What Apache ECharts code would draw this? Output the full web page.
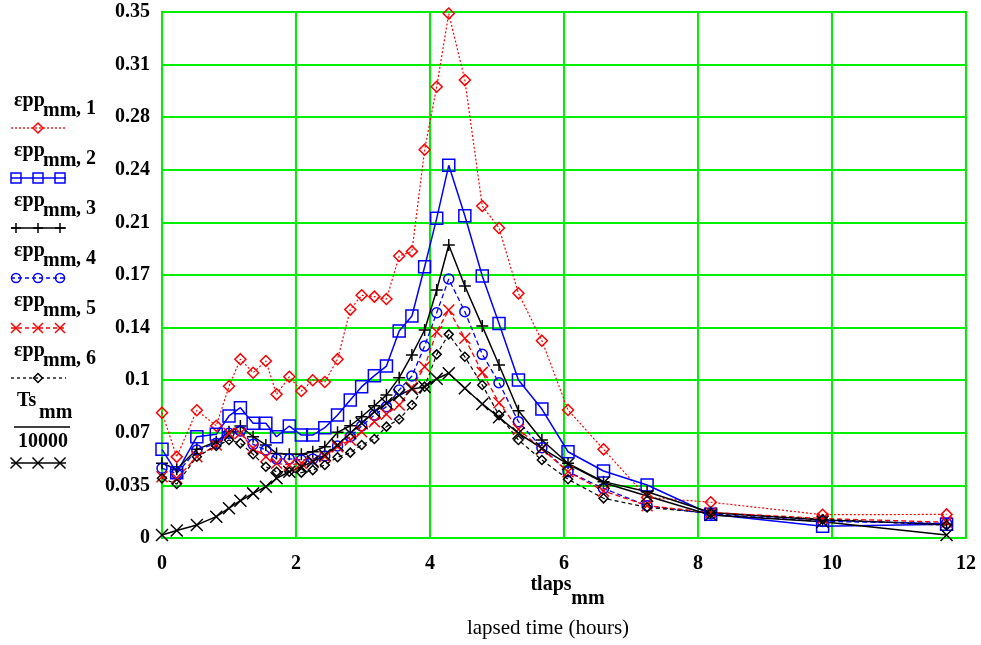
<!DOCTYPE html>
<html>
<head>
<meta charset="utf-8">
<script src="https://cdn.jsdelivr.net/npm/echarts@6/dist/echarts.min.js"></script>
<style>
html,body{margin:0;padding:0;background:#fff;}
#chart{width:981px;height:645px;}
</style>
</head>
<body>
<div id="chart"></div>
<script>
// lapsed time (hours)
var tlaps = [0, 0.22, 0.52, 0.81, 1.0, 1.17, 1.36, 1.55, 1.71, 1.90, 2.08, 2.25, 2.43, 2.62, 2.81, 2.98, 3.17, 3.35, 3.54, 3.73, 3.92, 4.10, 4.28, 4.52, 4.78, 5.03, 5.32, 5.67, 6.06, 6.59, 7.24, 8.19, 9.86, 11.71];

var epp1 = [0.0834, 0.054, 0.085, 0.0747, 0.101, 0.119, 0.110, 0.1178, 0.0956, 0.1073, 0.0978, 0.105, 0.1038, 0.119, 0.152, 0.1615, 0.1606, 0.159, 0.1876, 0.1907, 0.2584, 0.3003, 0.349, 0.3047, 0.2209, 0.2063, 0.1628, 0.1313, 0.0852, 0.059, 0.027, 0.0238, 0.0155, 0.0157];
var epp2 = [0.059, 0.0435, 0.0674, 0.069, 0.0812, 0.0867, 0.0763, 0.0763, 0.0674, 0.0745, 0.0685, 0.0685, 0.0734, 0.0818, 0.0918, 0.1007, 0.108, 0.1144, 0.1377, 0.1477, 0.1805, 0.2127, 0.248, 0.2144, 0.1743, 0.1428, 0.1051, 0.0858, 0.0574, 0.0446, 0.0353, 0.0158, 0.0078, 0.0091];
var epp3 = [0.0497, 0.0457, 0.059, 0.0641, 0.0707, 0.0745, 0.0674, 0.0619, 0.0563, 0.0557, 0.0557, 0.0574, 0.0607, 0.0703, 0.0747, 0.0807, 0.088, 0.0951, 0.1067, 0.1218, 0.1384, 0.165, 0.195, 0.1677, 0.141, 0.1151, 0.0847, 0.0652, 0.0497, 0.0375, 0.0308, 0.017, 0.012, 0.0091];
var epp4 = [0.0464, 0.043, 0.0585, 0.063, 0.0697, 0.0712, 0.0623, 0.0585, 0.0526, 0.0526, 0.0519, 0.0526, 0.0546, 0.0612, 0.0674, 0.0745, 0.0818, 0.0874, 0.0985, 0.1078, 0.1277, 0.1499, 0.1723, 0.1506, 0.1222, 0.1033, 0.0774, 0.0601, 0.0441, 0.033, 0.0215, 0.016, 0.011, 0.0098];
var epp5 = [0.0408, 0.0397, 0.0541, 0.0619, 0.0697, 0.0697, 0.0597, 0.0541, 0.0497, 0.0486, 0.0497, 0.0512, 0.0541, 0.0607, 0.0652, 0.0707, 0.0774, 0.0823, 0.0885, 0.1, 0.114, 0.1373, 0.1517, 0.1329, 0.1102, 0.09, 0.0723, 0.0592, 0.0441, 0.0313, 0.0215, 0.017, 0.013, 0.0105];
var epp6 = [0.0397, 0.0359, 0.0541, 0.0612, 0.0652, 0.063, 0.0557, 0.0474, 0.0441, 0.0441, 0.0435, 0.0452, 0.0486, 0.0537, 0.0568, 0.0619, 0.0659, 0.0741, 0.079, 0.0885, 0.1007, 0.1222, 0.1355, 0.1206, 0.1018, 0.0818, 0.0652, 0.0519, 0.0391, 0.0264, 0.0204, 0.0165, 0.0125, 0.0085];
var tsScaled = [0.002, 0.005, 0.0087, 0.0142, 0.0198, 0.0248, 0.0297, 0.0341, 0.0397, 0.0441, 0.0474, 0.0508, 0.0552, 0.0619, 0.0697, 0.0763, 0.084, 0.0896, 0.0951, 0.0991, 0.1005, 0.106, 0.1096, 0.0996, 0.0892, 0.0803, 0.0697, 0.0597, 0.0492, 0.0368, 0.0279, 0.0153, 0.0108, 0.002];

var yTickLabels = ["0", "0.035", "0.07", "0.1", "0.14", "0.17", "0.21", "0.24", "0.28", "0.31", "0.35"];
var xTickLabels = ["0", "2", "4", "6", "8", "10", "12"];
var legendIndex = ["1", "2", "3", "4", "5", "6"];

var FONT = "'Liberation Serif', 'Times New Roman', serif";
var GREEN = '#00ee00';
var PLUS = 'path://M5,0 L5,10 M0,5 L10,5';
var CROSS = 'path://M0,0 L10,10 M10,0 L0,10';

function pairs(vals) {
  return vals.map(function (v, i) { return [tlaps[i], v]; });
}

function mk(name, vals, color, dash, width, symbol, size) {
  return {
    name: name,
    type: 'line',
    data: pairs(vals),
    symbol: symbol,
    symbolSize: size,
    showSymbol: true,
    silent: true,
    animation: false,
    lineStyle: { color: color, width: width, type: dash },
    itemStyle: { color: 'rgba(0,0,0,0)', borderColor: color, borderWidth: 1.5 },
    emphasis: { disabled: true }
  };
}

var series = [
  mk('epp1', epp1, '#ff0000', [2, 2], 1.2, 'diamond', 11),
  mk('epp2', epp2, '#0000ff', 'solid', 1.5, 'rect', 12),
  mk('epp3', epp3, '#000000', 'solid', 1.5, PLUS, 12),
  mk('epp4', epp4, '#0000ff', [5, 3], 1.3, 'circle', 10),
  mk('epp5', epp5, '#ff0000', [5, 3], 1.3, CROSS, 11),
  mk('epp6', epp6, '#000000', [4, 3], 1.2, 'diamond', 9),
  mk('ts', tsScaled, '#000000', 'solid', 1.5, CROSS, 12)
];

// ---- legend drawn as graphic ----
var graphics = [];
function gLine(x1, y1, x2, y2, color, dash, w) {
  graphics.push({ type: 'line', silent: true, shape: { x1: x1, y1: y1, x2: x2, y2: y2 },
    style: { stroke: color, lineWidth: w || 1.3, lineDash: dash || null } });
}
function gDiamond(cx, cy, s, color) {
  graphics.push({ type: 'polygon', silent: true, shape: { points: [[cx, cy - s / 2], [cx + s / 2, cy], [cx, cy + s / 2], [cx - s / 2, cy]] },
    style: { fill: 'none', stroke: color, lineWidth: 1.5 } });
}
function gSquare(cx, cy, s, color) {
  graphics.push({ type: 'rect', silent: true, shape: { x: cx - s / 2, y: cy - s / 2, width: s, height: s },
    style: { fill: 'none', stroke: color, lineWidth: 1.5 } });
}
function gCircle(cx, cy, r, color) {
  graphics.push({ type: 'circle', silent: true, shape: { cx: cx, cy: cy, r: r },
    style: { fill: 'none', stroke: color, lineWidth: 1.5 } });
}
function gPlus(cx, cy, s, color) {
  gLine(cx - s / 2, cy, cx + s / 2, cy, color, null, 1.5);
  gLine(cx, cy - s / 2, cx, cy + s / 2, color, null, 1.5);
}
function gCross(cx, cy, s, color) {
  gLine(cx - s / 2, cy - s / 2, cx + s / 2, cy + s / 2, color, null, 1.5);
  gLine(cx - s / 2, cy + s / 2, cx + s / 2, cy - s / 2, color, null, 1.5);
}
function gText(x, y, txt, size, weight, align) {
  graphics.push({ type: 'text', silent: true, x: x, y: y,
    style: { text: txt, fontFamily: FONT, fontSize: size, fontWeight: weight || 'bold', fill: '#000',
      align: align || 'left', verticalAlign: 'middle' } });
}

var legendSpec = [
  { color: '#ff0000', dash: [2, 2], marks: 'one', draw: function (x, y) { gDiamond(x, y, 10, '#ff0000'); } },
  { color: '#0000ff', dash: null, marks: 'three', draw: function (x, y) { gSquare(x, y, 10, '#0000ff'); } },
  { color: '#000000', dash: null, marks: 'three', draw: function (x, y) { gPlus(x, y, 10, '#000'); } },
  { color: '#0000ff', dash: [4, 3], marks: 'three', draw: function (x, y) { gCircle(x, y, 4.5, '#0000ff'); } },
  { color: '#ff0000', dash: [4, 3], marks: 'three', draw: function (x, y) { gCross(x, y, 10, '#ff0000'); } },
  { color: '#000000', dash: [3, 3], marks: 'one', draw: function (x, y) { gDiamond(x, y, 9, '#000'); } }
];

legendSpec.forEach(function (spec, i) {
  var base = 50 * i;
  gText(14, 101 + base, 'εpp', 20);
  gText(43, 111 + base, 'mm', 20);
  gText(76, 109 + base, ', ' + legendIndex[i], 20);
  var ly = 128 + base;
  gLine(11, ly, 66, ly, spec.color, spec.dash, 1.3);
  if (spec.marks === 'one') spec.draw(38, ly);
  else { spec.draw(16, ly); spec.draw(38, ly); spec.draw(60, ly); }
});
// Ts_mm / 10000 entry
gText(17, 401, 'Ts', 20);
gText(39, 413, 'mm', 20);
gLine(14, 427, 70, 427, '#000', null, 1.5);
gText(43, 442, '10000', 20, 'bold', 'center');
gLine(11, 463, 66, 463, '#000', null, 1.3);
gCross(16, 463, 11, '#000'); gCross(38, 463, 11, '#000'); gCross(60, 463, 11, '#000');

// axis titles
gText(551, 585, 'tlaps', 20, 'bold', 'center');
gText(588, 599, 'mm', 20, 'bold', 'center');
gText(548, 628, 'lapsed time (hours)', 21, 'normal', 'center');

var option = {
  backgroundColor: '#ffffff',
  animation: false,
  grid: { left: 162, right: 15, top: 12, bottom: 107, show: true, borderColor: GREEN, borderWidth: 2, backgroundColor: 'transparent' },
  xAxis: {
    type: 'value', min: 0, max: 12, interval: 2,
    axisLine: { show: true, lineStyle: { color: GREEN, width: 2 } },
    axisTick: { show: false },
    splitLine: { show: true, lineStyle: { color: GREEN, width: 2 } },
    axisLabel: {
      margin: 16, color: '#000', fontFamily: FONT, fontSize: 20, fontWeight: 'bold',
      formatter: function (v) { return xTickLabels[Math.round(v / 2)]; }
    }
  },
  yAxis: {
    type: 'value', min: 0, max: 0.35, interval: 0.035,
    axisLine: { show: true, lineStyle: { color: GREEN, width: 2 } },
    axisTick: { show: false },
    splitLine: { show: true, lineStyle: { color: GREEN, width: 2 } },
    axisLabel: {
      margin: 12, color: '#000', fontFamily: FONT, fontSize: 20, fontWeight: 'bold',
      formatter: function (v) { return yTickLabels[Math.round(v / 0.035)]; }
    }
  },
  series: series,
  graphic: graphics
};

var chart = echarts.init(document.getElementById('chart'), null, { renderer: 'canvas' });
chart.setOption(option);
</script>
</body>
</html>
